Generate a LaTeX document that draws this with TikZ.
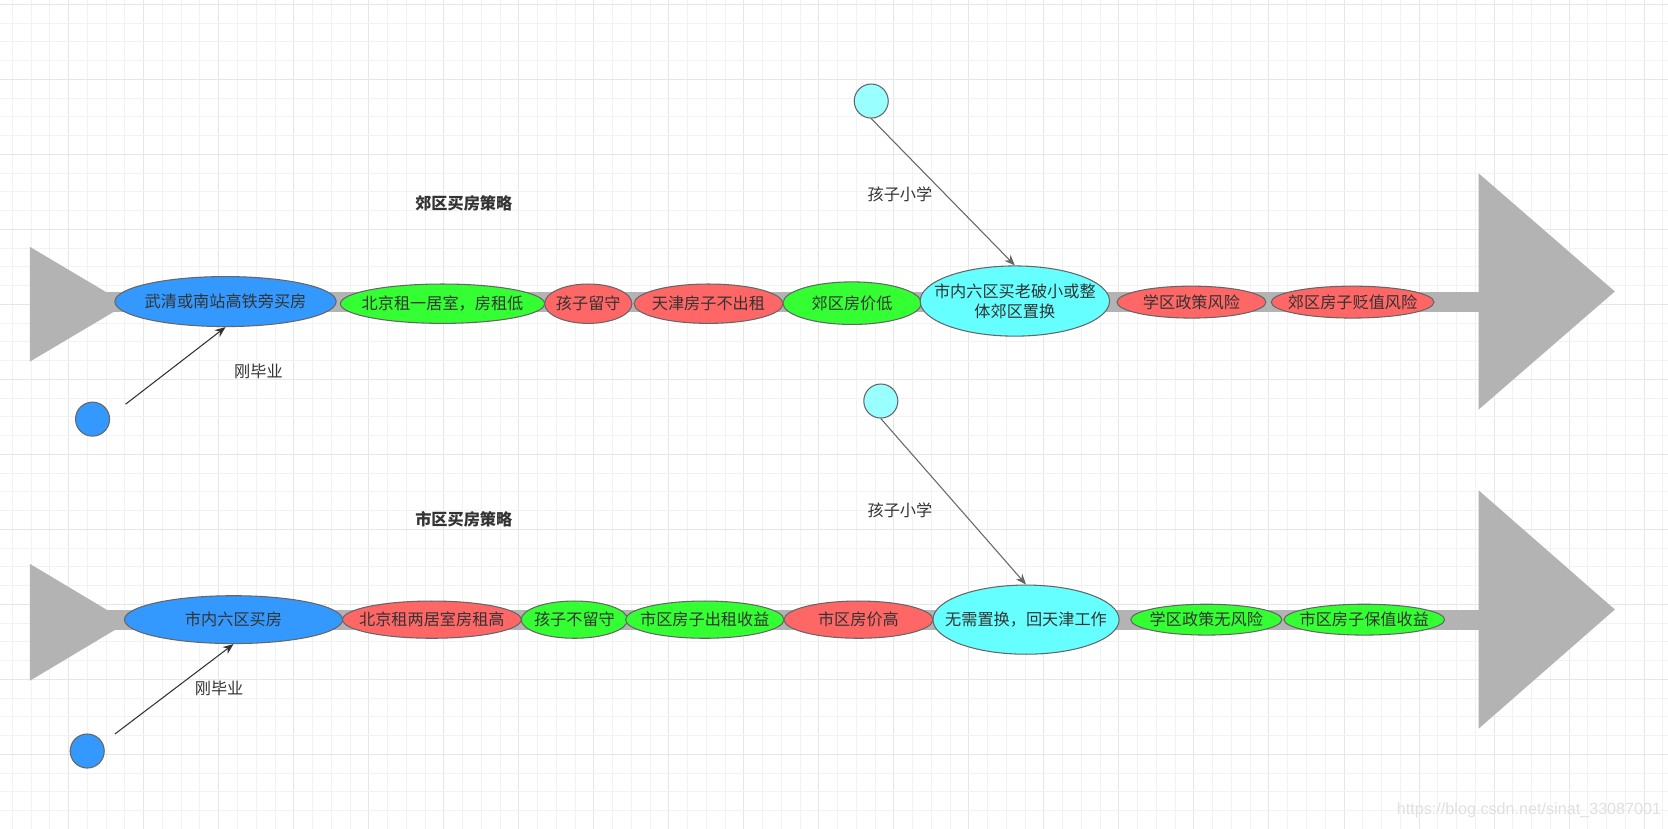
\documentclass[tikz,border=0pt]{standalone}
\usepackage{fontspec}
\setmainfont{Noto Sans CJK SC}
\newfontfamily\wmfont{Liberation Sans}
\usetikzlibrary{arrows.meta,shapes.geometric}
\definecolor{cblue}{HTML}{3399FF}
\definecolor{cgreen}{HTML}{33FF33}
\definecolor{cred}{HTML}{FF6666}
\definecolor{ccyan}{HTML}{66FFFF}
\definecolor{clight}{HTML}{99FFFF}
\definecolor{cgray}{HTML}{B3B3B3}
\definecolor{cline}{HTML}{666666}
\definecolor{ctxt}{HTML}{333333}
\definecolor{gminor}{HTML}{F2F2F2}
\definecolor{gmajor}{HTML}{E6E6E6}
\definecolor{cwm}{HTML}{E0E0E0}
\begin{document}
\begin{tikzpicture}[x=0.5pt,y=-0.5pt,
  every node/.style={font=\fontsize{7.6}{9.5}\selectfont, text=ctxt},
  el/.style={ellipse, draw=cline, line width=0.5pt, inner sep=0pt},
  eltext/.style={inner sep=0pt, align=center},
  dot/.style={circle, draw=cline, line width=0.5pt, inner sep=0pt, minimum size=16pt},
  bone/.style={fill=cgray, draw=none},
  gridminor/.style={draw=gminor, line width=0.47pt},
  gridmajor/.style={draw=gmajor, line width=0.47pt},
  conngray/.style={draw=cline, line width=0.5pt, -{Stealth[length=5pt,width=4pt]}},
  conndark/.style={draw=ctxt, line width=0.5pt, -{Stealth[length=5pt,width=4pt]}},
  lbl/.style={inner sep=0pt},
  ttl/.style={inner sep=0pt, font=\fontsize{7.6}{9.5}\selectfont\bfseries}
]
\useasboundingbox (0,0) rectangle (1568,779);
\fill[white] (0,0) rectangle (1568,779);
% grid (snapped to output pixel centres)
\foreach \i in {0,...,89} {
  \pgfmathsetmacro\xx{(round((11.7+17.63*\i)*1.06378-0.5)+0.5)/1.06378}
  \pgfmathtruncatemacro\m{mod(\i,4)}
  \ifnum\m=3 \draw[gridmajor] (\xx,0) -- (\xx,779); \else \draw[gridminor] (\xx,0) -- (\xx,779); \fi
}
\foreach \i in {0,...,44} {
  \pgfmathsetmacro\yy{(round((4.0+17.63*\i)*1.06378-0.5)+0.5)/1.06378}
  \pgfmathtruncatemacro\m{mod(\i,4)}
  \ifnum\m=0 \draw[gridmajor] (0,\yy) -- (1568,\yy); \else \draw[gridminor] (0,\yy) -- (1568,\yy); \fi
}
% top fishbone
\fill[bone] (100,274.5) rectangle (1390,293.5);
\fill[bone] (28,232) -- (28,340) -- (119,286) -- cycle;
\fill[bone] (1390,163) -- (1390,385) -- (1518,274) -- cycle;
% bottom fishbone
\fill[bone] (100,573) rectangle (1390,592);
\fill[bone] (28,530) -- (28,640) -- (120,585) -- cycle;
\fill[bone] (1390,461) -- (1390,685) -- (1518,573) -- cycle;

% top row
\node[el, fill=cblue, minimum width=104pt, minimum height=23.5pt] (e1) at (212,283.5) {};
\node[eltext] at (e1) {武清或南站高铁旁买房};
\node[el, fill=cgreen, minimum width=96pt, minimum height=18.5pt] (e2) at (416,285.5) {};
\node[eltext] at (e2) {北京租一居室，房租低};
\node[el, fill=cred, minimum width=41pt, minimum height=18.5pt] (e3) at (553,285.5) {};
\node[eltext] at (e3) {孩子留守};
\node[el, fill=cred, minimum width=70pt, minimum height=18.5pt] (e4) at (666,285.5) {};
\node[eltext] at (e4) {天津房子不出租};
\node[el, fill=cgreen, minimum width=65pt, minimum height=20pt] (e5) at (801,285) {};
\node[eltext] at (e5) {郊区房价低};
\node[el, fill=ccyan, minimum width=89pt, minimum height=33pt] (e6) at (954,283) {};
\node[eltext] at (e6) {市内六区买老破小或整\\体郊区置换};
\node[el, fill=cred, minimum width=70pt, minimum height=15pt] (e7) at (1120,284) {};
\node[eltext] at (e7) {学区政策风险};
\node[el, fill=cred, minimum width=76.5pt, minimum height=15pt] (e8) at (1271.5,284) {};
\node[eltext] at (e8) {郊区房子贬值风险};

% bottom row
\node[el, fill=cblue, minimum width=102.5pt, minimum height=22.5pt] (e9) at (219.5,582.5) {};
\node[eltext] at (e9) {市内六区买房};
\node[el, fill=cred, minimum width=84pt, minimum height=17.5pt] (e10) at (406,582.5) {};
\node[eltext] at (e10) {北京租两居室房租高};
\node[el, fill=cgreen, minimum width=50pt, minimum height=17.5pt] (e11) at (540,582.5) {};
\node[eltext] at (e11) {孩子不留守};
\node[el, fill=cgreen, minimum width=74.5pt, minimum height=17.5pt] (e12) at (662.5,582.5) {};
\node[eltext] at (e12) {市区房子出租收益};
\node[el, fill=cred, minimum width=70pt, minimum height=17.5pt] (e13) at (807,582.5) {};
\node[eltext] at (e13) {市区房价高};
\node[el, fill=ccyan, minimum width=87.5pt, minimum height=32.5pt] (e14) at (964.5,582.5) {};
\node[eltext] at (e14) {无需置换，回天津工作};
\node[el, fill=cgreen, minimum width=71pt, minimum height=14.5pt] (e15) at (1134,582.5) {};
\node[eltext] at (e15) {学区政策无风险};
\node[el, fill=cgreen, minimum width=75.5pt, minimum height=14.5pt] (e16) at (1282.5,582.5) {};
\node[eltext] at (e16) {市区房子保值收益};

% circles
\node[dot, fill=clight] (c1) at (819,95) {};
\node[dot, fill=cblue] (c2) at (87,394) {};
\node[dot, fill=clight] (c3) at (828,377) {};
\node[dot, fill=cblue] (c4) at (82,706) {};
\coordinate (s2) at (118,380);
\coordinate (s4) at (108,690);

% connectors
\draw[conngray] (c1.south) -- (e6.north);
\draw[conndark] (s2) -- (e1.south);
\draw[conngray] (c3.south) -- (e14.north);
\draw[conndark] (s4) -- (e9.south);

% labels
\node[lbl] (l1) at (846,183) {孩子小学};
\node[lbl] (l2) at (243,349) {刚毕业};
\node[lbl] (l3) at (846,480) {孩子小学};
\node[lbl] (l4) at (206,647) {刚毕业};
\node[ttl] (t1) at (436,191) {郊区买房策略};
\node[ttl] (t2) at (436,488) {市区买房策略};
\node[lbl, anchor=east, text=cwm, font=\wmfont\fontsize{7.6}{9}\selectfont] (wm) at (1562,762) {https://blog.csdn.net/sinat\_33087001};
\end{tikzpicture}
\end{document}
